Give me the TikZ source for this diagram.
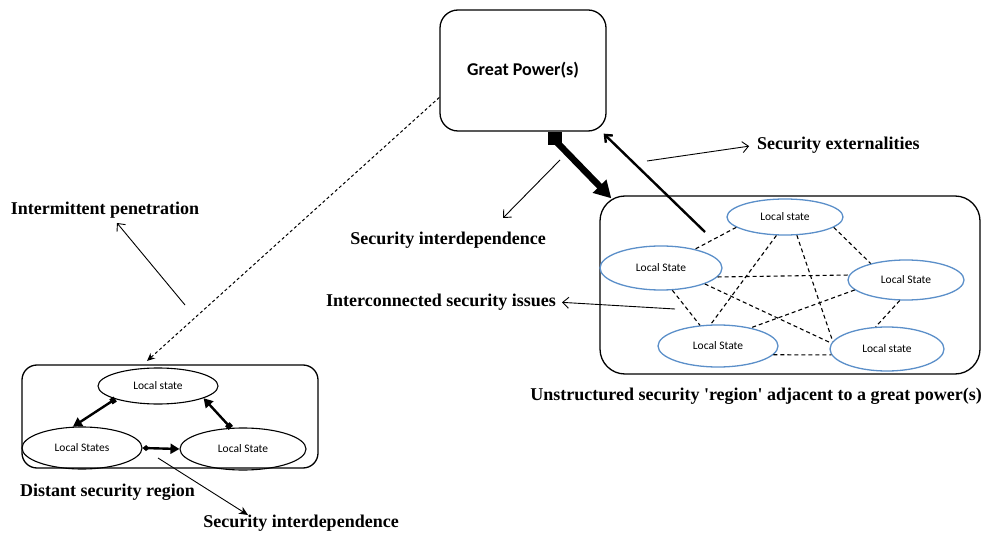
\documentclass[tikz,border=0pt]{standalone}
\usepackage{fontspec}
\setmainfont{Liberation Serif}
\newfontfamily\calibri{Carlito}
\usetikzlibrary{arrows.meta,calc,shapes.geometric}
\definecolor{stateblue}{RGB}{91,143,201}
\begin{document}
\begin{tikzpicture}[x=1pt,y=-1pt,
  panel/.style={draw, line width=1.3pt, rounded corners=#1, inner sep=0pt},
  bluestate/.style={ellipse, draw=stateblue, line width=1.3pt, inner sep=0pt,
    font=\calibri\fontsize{11.5}{12}\selectfont},
  blackstate/.style={ellipse, draw, line width=1.1pt, inner sep=0pt,
    font=\calibri\fontsize{11.5}{12}\selectfont},
  note/.style={font=\bfseries\fontsize{18}{20}\selectfont, inner sep=0pt},
  link/.style={dash pattern=on 4pt off 3pt, line width=1.1pt},
  pointer/.style={line width=0.9pt, -{Straight Barb[length=6pt,width=11pt,line width=0.9pt]}},
  duo/.style={line width=2.4pt, {Square[length=5pt,width=6pt]}-{Triangle[length=9pt,width=10pt]}},
]
\useasboundingbox (0,0) rectangle (984,534);

% boxes
\node[panel=18pt, minimum width=166pt, minimum height=121pt,
  font=\calibri\bfseries\fontsize{18}{20}\selectfont] (gp) at (523,70.5) {Great Power(s)};
\node[panel=25pt, minimum width=380pt, minimum height=178pt] (rreg) at (790,285) {};
\node[panel=15pt, minimum width=296pt, minimum height=103pt] (lreg) at (170,416.5) {};

% states of the unstructured region
\node[bluestate, minimum width=116pt, minimum height=36pt] (rtop) at (785,217) {Local state};
\node[bluestate, minimum width=122pt, minimum height=44pt] (rleft) at (661,268) {Local State};
\node[bluestate, minimum width=116pt, minimum height=40pt] (rright) at (906,280) {Local State};
\node[bluestate, minimum width=120pt, minimum height=42pt] (rbl) at (718,346) {Local State};
\node[bluestate, minimum width=114pt, minimum height=44pt] (rbr) at (887,349) {Local state};

% every pair is linked
\draw[link] (rtop.192) -- (rleft.29);
\draw[link] (rtop.348) -- (rright.155);
\draw[link] (rtop.245) -- (rbl.109);
\draw[link] (rtop.303) -- (rbr.172);
\draw[link] (rleft.351) -- (rright.175);
\draw[link] (rleft.297) -- (rbl.131);
\draw[link] (rleft.340) -- (rbr.174);
\draw[link] (rright.191) -- (rbl.29);
\draw[link] (rright.253) -- (rbr.117);
\draw[link] (rbl.351) -- (rbr.186);

% states of the distant region
\node[blackstate, minimum width=120pt, minimum height=36pt] (ltop) at (158,386) {Local state};
\node[blackstate, minimum width=120pt, minimum height=42pt] (lleft) at (82,448) {Local States};
\node[blackstate, minimum width=126pt, minimum height=42pt] (lright) at (243,449) {Local State};

\draw[duo] (ltop.south west) -- (lleft.113);
\draw[duo] (lright.120) -- (ltop.-15);
\draw[line width=2.4pt, {Diamond[length=7pt,width=6pt]}-{Triangle[length=9pt,width=10pt]}]
  (lleft.east) -- (lright.west);

% labels
\node[note, anchor=west] (ext) at (757,145) {Security externalities};
\node[note] (sidtop) at (448,240) {Security interdependence};
\node[note] (ic) at (441,302) {Interconnected security issues};
\node[note] (ip) at (105,210) {Intermittent penetration};
\node[note, anchor=east] (ur) at (982,396)
  {Unstructured security \textquotesingle region\textquotesingle\ adjacent to a great power(s)};
\node[note, anchor=west] (dsr) at (20,492) {Distant security region};
\node[note] (sidbot) at (301,523) {Security interdependence};

% connector ends
\coordinate (gpA) at ($(gp.south west)!0.693!(gp.south east)$);
\coordinate (rregA) at ($(rreg.north west)+(12,3)$);
\coordinate (midS) at (705,232);
\coordinate (midE) at ($(gp.south east)+(-3,2)$);
\coordinate (extS) at (647,161);
\coordinate (sidS) at (560,160);
\coordinate (sidE) at (503,218);
\coordinate (icS) at (675,309);
\coordinate (ipS) at (185,305);
\coordinate (ipE) at (117,223);
\coordinate (penS) at ($(gp.south west)!0.28!(gp.north west)$);
\coordinate (penE) at ($(lreg.north west)!0.41!(lreg.north east)$);
\coordinate (botS) at (158,458);
\coordinate (botE) at (248,515);

% great power and the adjacent region
\draw[line width=6.5pt, {Square[length=13pt,width=14pt]}-{Triangle[length=17pt,width=18pt]}]
  (gpA) -- ++(0,9) -- (rregA);
\draw[line width=2.4pt, -{Straight Barb[length=6pt,width=10pt]}] (midS) -- (midE);

% annotation arrows
\draw[pointer, shorten >=8pt] (extS) -- (ext.west);
\draw[pointer] (sidS) -- (sidE);
\draw[pointer, shorten >=6pt] (icS) -- (ic.east);
\draw[pointer] (ipS) -- (ipE);
\draw[dash pattern=on 3pt off 2.5pt, line width=1pt, shorten >=5pt,
  -{Stealth[length=8pt,width=7pt]}] (penS) -- (penE);
\draw[line width=0.9pt, -{Stealth[length=9pt,width=8pt]}] (botS) -- (botE);
\end{tikzpicture}
\end{document}
